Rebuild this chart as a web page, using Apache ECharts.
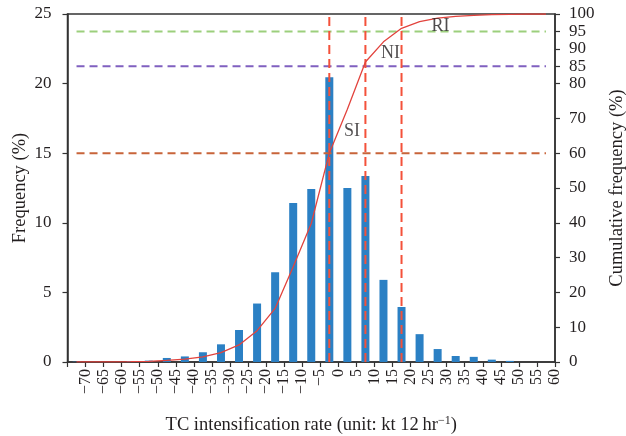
<!DOCTYPE html>
<html>
<head>
<meta charset="utf-8">
<script src="https://cdn.jsdelivr.net/npm/echarts@6/dist/echarts.min.js"></script>
<style>
html,body{margin:0;padding:0;background:#fff;}
#chart{width:626px;height:436px;}
</style>
</head>
<body>
<div id="chart"></div>
<script>
// Bin centers (kt per 12 hr)
const binCenters = [-72.5,-67.5,-62.5,-57.5,-52.5,-47.5,-42.5,-37.5,-32.5,-27.5,-22.5,-17.5,-12.5,-7.5,-2.5,2.5,7.5,12.5,17.5,22.5,27.5,32.5,37.5,42.5,47.5,52.5,57.5];
// Frequency (%)
const frequency = [0.02,0,0,0.07,0.1,0.29,0.4,0.7,1.27,2.3,4.2,6.44,11.42,12.43,20.45,12.5,13.36,5.9,3.95,2.0,0.93,0.43,0.37,0.17,0.08,0,0];
// Cumulative frequency (%)
const cumulative = [0.02,0.03,0.04,0.1,0.2,0.45,0.8,1.5,2.7,4.9,9.0,15.4,27.4,39.8,60.0,72.6,86.2,92.0,95.9,97.8,98.8,99.3,99.6,99.8,99.9,100,100];
// Threshold percentiles (%) and their rates
const thresholdPct = [60, 85, 95];
const thresholdRate = [-2.5, 7.5, 17.5];
const thresholdNames = ['SI', 'NI', 'RI'];
const labelPos = [[3.8, 66.3], [14.45, 88.6], [28.3, 96.5]];
const rightTicks = [0,10,20,30,40,50,60,70,80,85,90,95,100];
const xMin = -75, xMax = 60;

const serif = 'Liberation Serif';
const txt = '#231f20';
const axisCol = '#333';
const hColors = ['#c8643a', '#8060c0', '#9ccf7c'];

const series = [];
series.push({
  type: 'bar', xAxisIndex: 0, yAxisIndex: 0, barWidth: 8,
  itemStyle: { color: '#2b80c4' },
  data: binCenters.map((c, i) => [c, frequency[i]]),
  z: 2
});
thresholdPct.forEach((p, i) => {
  series.push({
    type: 'line', yAxisIndex: 1, symbol: 'none', silent: true,
    lineStyle: { color: hColors[i], width: 2, type: [8, 5], opacity: 1 },
    data: [[binCenters[0], p], [binCenters[binCenters.length - 1], p]],
    z: 3
  });
});
thresholdRate.forEach((r) => {
  series.push({
    type: 'line', yAxisIndex: 1, symbol: 'none', silent: true,
    lineStyle: { color: '#f4513a', width: 2, type: [9, 5], opacity: 1 },
    data: [[r, 0], [r, 100]],
    z: 4
  });
});
series.push({
  type: 'line', yAxisIndex: 1, symbol: 'none',
  lineStyle: { color: '#e2433d', width: 1.3 },
  data: binCenters.map((c, i) => [c, cumulative[i]]),
  z: 5
});
series.push({
  type: 'scatter', yAxisIndex: 1, symbolSize: 0,
  label: { show: true, position: 'inside', formatter: p => thresholdNames[p.dataIndex],
           fontFamily: serif, fontSize: 18, color: txt },
  data: labelPos.map(p => [p[0], p[1]]),
  z: 6
});

const chart = echarts.init(document.getElementById('chart'));
chart.setOption({
  animation: false,
  grid: { left: 67.5, right: 71, top: 14, bottom: 74, containLabel: false, outerBoundsMode: 'none',
          show: true, borderColor: axisCol, borderWidth: 1.5, backgroundColor: 'transparent' },
  xAxis: {
    type: 'value', min: xMin, max: xMax, interval: 5,
    name: '{a|TC intensification rate (unit: kt 12\u2009hr}{s|\u22121}{a|)}',
    nameLocation: 'middle', nameGap: 53, nameMoveOverlap: false,
    nameTextStyle: { rich: {
      a: { fontFamily: serif, fontSize: 18.5, color: txt, verticalAlign: 'bottom', lineHeight: 20 },
      s: { fontFamily: serif, fontSize: 12, color: txt, verticalAlign: 'top', lineHeight: 20 }
    } },
    axisLine: { show: true, onZero: false, lineStyle: { color: axisCol, width: 1.5 } },
    axisTick: { show: true, length: 5, lineStyle: { color: axisCol, width: 1.2 } },
    splitLine: { show: false },
    axisLabel: {
      rotate: 90, margin: 7, fontFamily: serif, fontSize: 16, color: txt,
      formatter: v => v === xMin ? '' : String(v).replace('-', '\u2212')
    }
  },
  yAxis: [
    {
      type: 'value', min: 0, max: 25, interval: 5, position: 'left',
      name: 'Frequency (%)', nameLocation: 'middle', nameGap: 38, nameRotate: 90, nameMoveOverlap: false,
      nameTextStyle: { fontFamily: serif, fontSize: 18.5, color: txt },
      axisLine: { show: true, onZero: false, lineStyle: { color: axisCol, width: 1.5 } },
      axisTick: { show: true, length: 5, lineStyle: { color: axisCol, width: 1.2 } },
      splitLine: { show: false },
      axisLabel: { fontFamily: serif, fontSize: 17, color: txt, margin: 16 }
    },
    {
      type: 'value', min: 0, max: 100, interval: 10, position: 'right',
      name: 'Cumulative frequency (%)', nameLocation: 'middle', nameGap: 53, nameRotate: 90, nameMoveOverlap: false,
      nameTextStyle: { fontFamily: serif, fontSize: 18.5, color: txt },
      axisLine: { show: true, onZero: false, lineStyle: { color: axisCol, width: 1.5 } },
      axisTick: { show: true, length: 5, customValues: rightTicks, lineStyle: { color: axisCol, width: 1.2 } },
      splitLine: { show: false },
      axisLabel: { fontFamily: serif, fontSize: 17, color: txt, margin: 14, customValues: rightTicks }
    }
  ],
  series: series
});
</script>
</body>
</html>
